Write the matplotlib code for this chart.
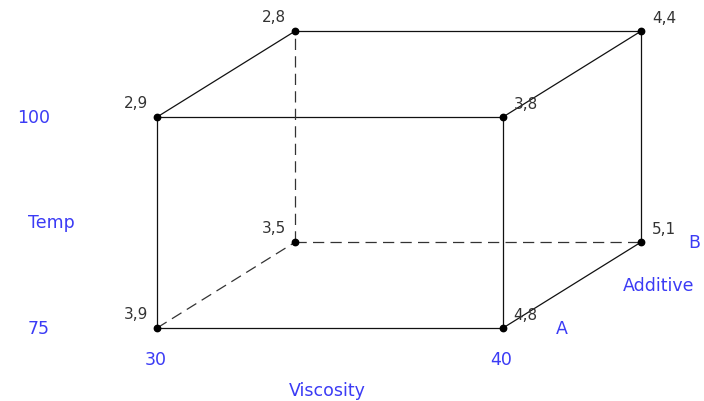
import matplotlib.pyplot as plt

# ================================
#      DATA (2^3 design cube)
# ================================
viscosity = [30, 40]
temp = [75, 100]
additive = ["A", "B"]
# response at (viscosity, temp, additive)
resp_visc = [30, 40, 30, 40, 30, 40, 30, 40]
resp_temp = [75, 75, 100, 100, 75, 75, 100, 100]
resp_add = ["A", "A", "A", "A", "B", "B", "B", "B"]
resp_val = ["3,9", "4,8", "2,9", "3,8", "3,5", "5,1", "2,8", "4,4"]

# oblique projection of the additive axis
DEPTH_X = 4.0
DEPTH_Y = 10.2


def proj(v, t, a):
    k = additive.index(a)
    return v + k * DEPTH_X, t + k * DEPTH_Y


BLUE = "#3b3bf5"
TXT = "#333333"

fig = plt.figure(figsize=(7.04, 4.02), dpi=100)
ax = fig.add_axes([0, 0, 1, 1])
ax.set_xlim(25.46, 45.81)
ax.set_ylim(66.35, 113.98)
ax.axis("off")

v0, v1 = viscosity
t0, t1 = temp
a0, a1 = additive

solid = [
    ((v0, t0, a0), (v1, t0, a0)), ((v0, t1, a0), (v1, t1, a0)),
    ((v0, t0, a0), (v0, t1, a0)), ((v1, t0, a0), (v1, t1, a0)),
    ((v0, t1, a1), (v1, t1, a1)), ((v1, t0, a1), (v1, t1, a1)),
    ((v0, t1, a0), (v0, t1, a1)), ((v1, t1, a0), (v1, t1, a1)),
    ((v1, t0, a0), (v1, t0, a1)),
]
dashed = [
    ((v0, t0, a1), (v0, t1, a1)), ((v0, t0, a1), (v1, t0, a1)),
    ((v0, t0, a0), (v0, t0, a1)),
]

for p, q in solid:
    x0, y0 = proj(*p)
    x1, y1 = proj(*q)
    ax.plot([x0, x1], [y0, y1], color="#111111", lw=0.9, zorder=1)
for p, q in dashed:
    x0, y0 = proj(*p)
    x1, y1 = proj(*q)
    ax.plot([x0, x1], [y0, y1], color="#333333", lw=0.9, dashes=(9, 5), zorder=1)

for v, t, a, lab in zip(resp_visc, resp_temp, resp_add, resp_val):
    x, y = proj(v, t, a)
    ax.plot(x, y, "o", color="black", ms=4.6, zorder=3)
    if v == v0:
        ax.annotate(lab, (x, y), xytext=(-6.5, 7), textcoords="offset points",
                    ha="right", va="baseline", fontsize=11, color=TXT)
    else:
        ax.annotate(lab, (x, y), xytext=(7.5, 6.5), textcoords="offset points",
                    ha="left", va="baseline", fontsize=11, color=TXT)

# axis labels in blue
fs = 12.5
for t in temp:
    x, y = proj(v0, t, a0)
    ax.annotate(str(t), (x, y), xytext=(-77, 0), textcoords="offset points",
                ha="right", va="center", fontsize=fs, color=BLUE)
x, y = proj(v0, (t0 + t1) / 2, a0)
ax.annotate("Temp", (x, y), xytext=(-76, 0), textcoords="offset points",
            ha="center", va="center", fontsize=fs, color=BLUE)

for v in viscosity:
    x, y = proj(v, t0, a0)
    ax.annotate(str(v), (x, y), xytext=(-1, -22.5), textcoords="offset points",
                ha="center", va="center", fontsize=fs, color=BLUE)
x, y = proj((v0 + v1) / 2, t0, a0)
ax.annotate("Viscosity", (x, y), xytext=(-2, -45), textcoords="offset points",
            ha="center", va="center", fontsize=fs, color=BLUE)

for a, dx in zip(additive, [42, 38]):
    x, y = proj(v1, t0, a)
    ax.annotate(a, (x, y), xytext=(dx, 0), textcoords="offset points",
                ha="center", va="center", fontsize=fs, color=BLUE)
xa, ya = proj(v1, t0, a0)
xb, yb = proj(v1, t0, a1)
ax.annotate("Additive", ((xa + xb) / 2, (ya + yb) / 2), xytext=(62, 0),
            textcoords="offset points", ha="center", va="center",
            fontsize=fs, color=BLUE)

fig.savefig("out.png", dpi=100)
